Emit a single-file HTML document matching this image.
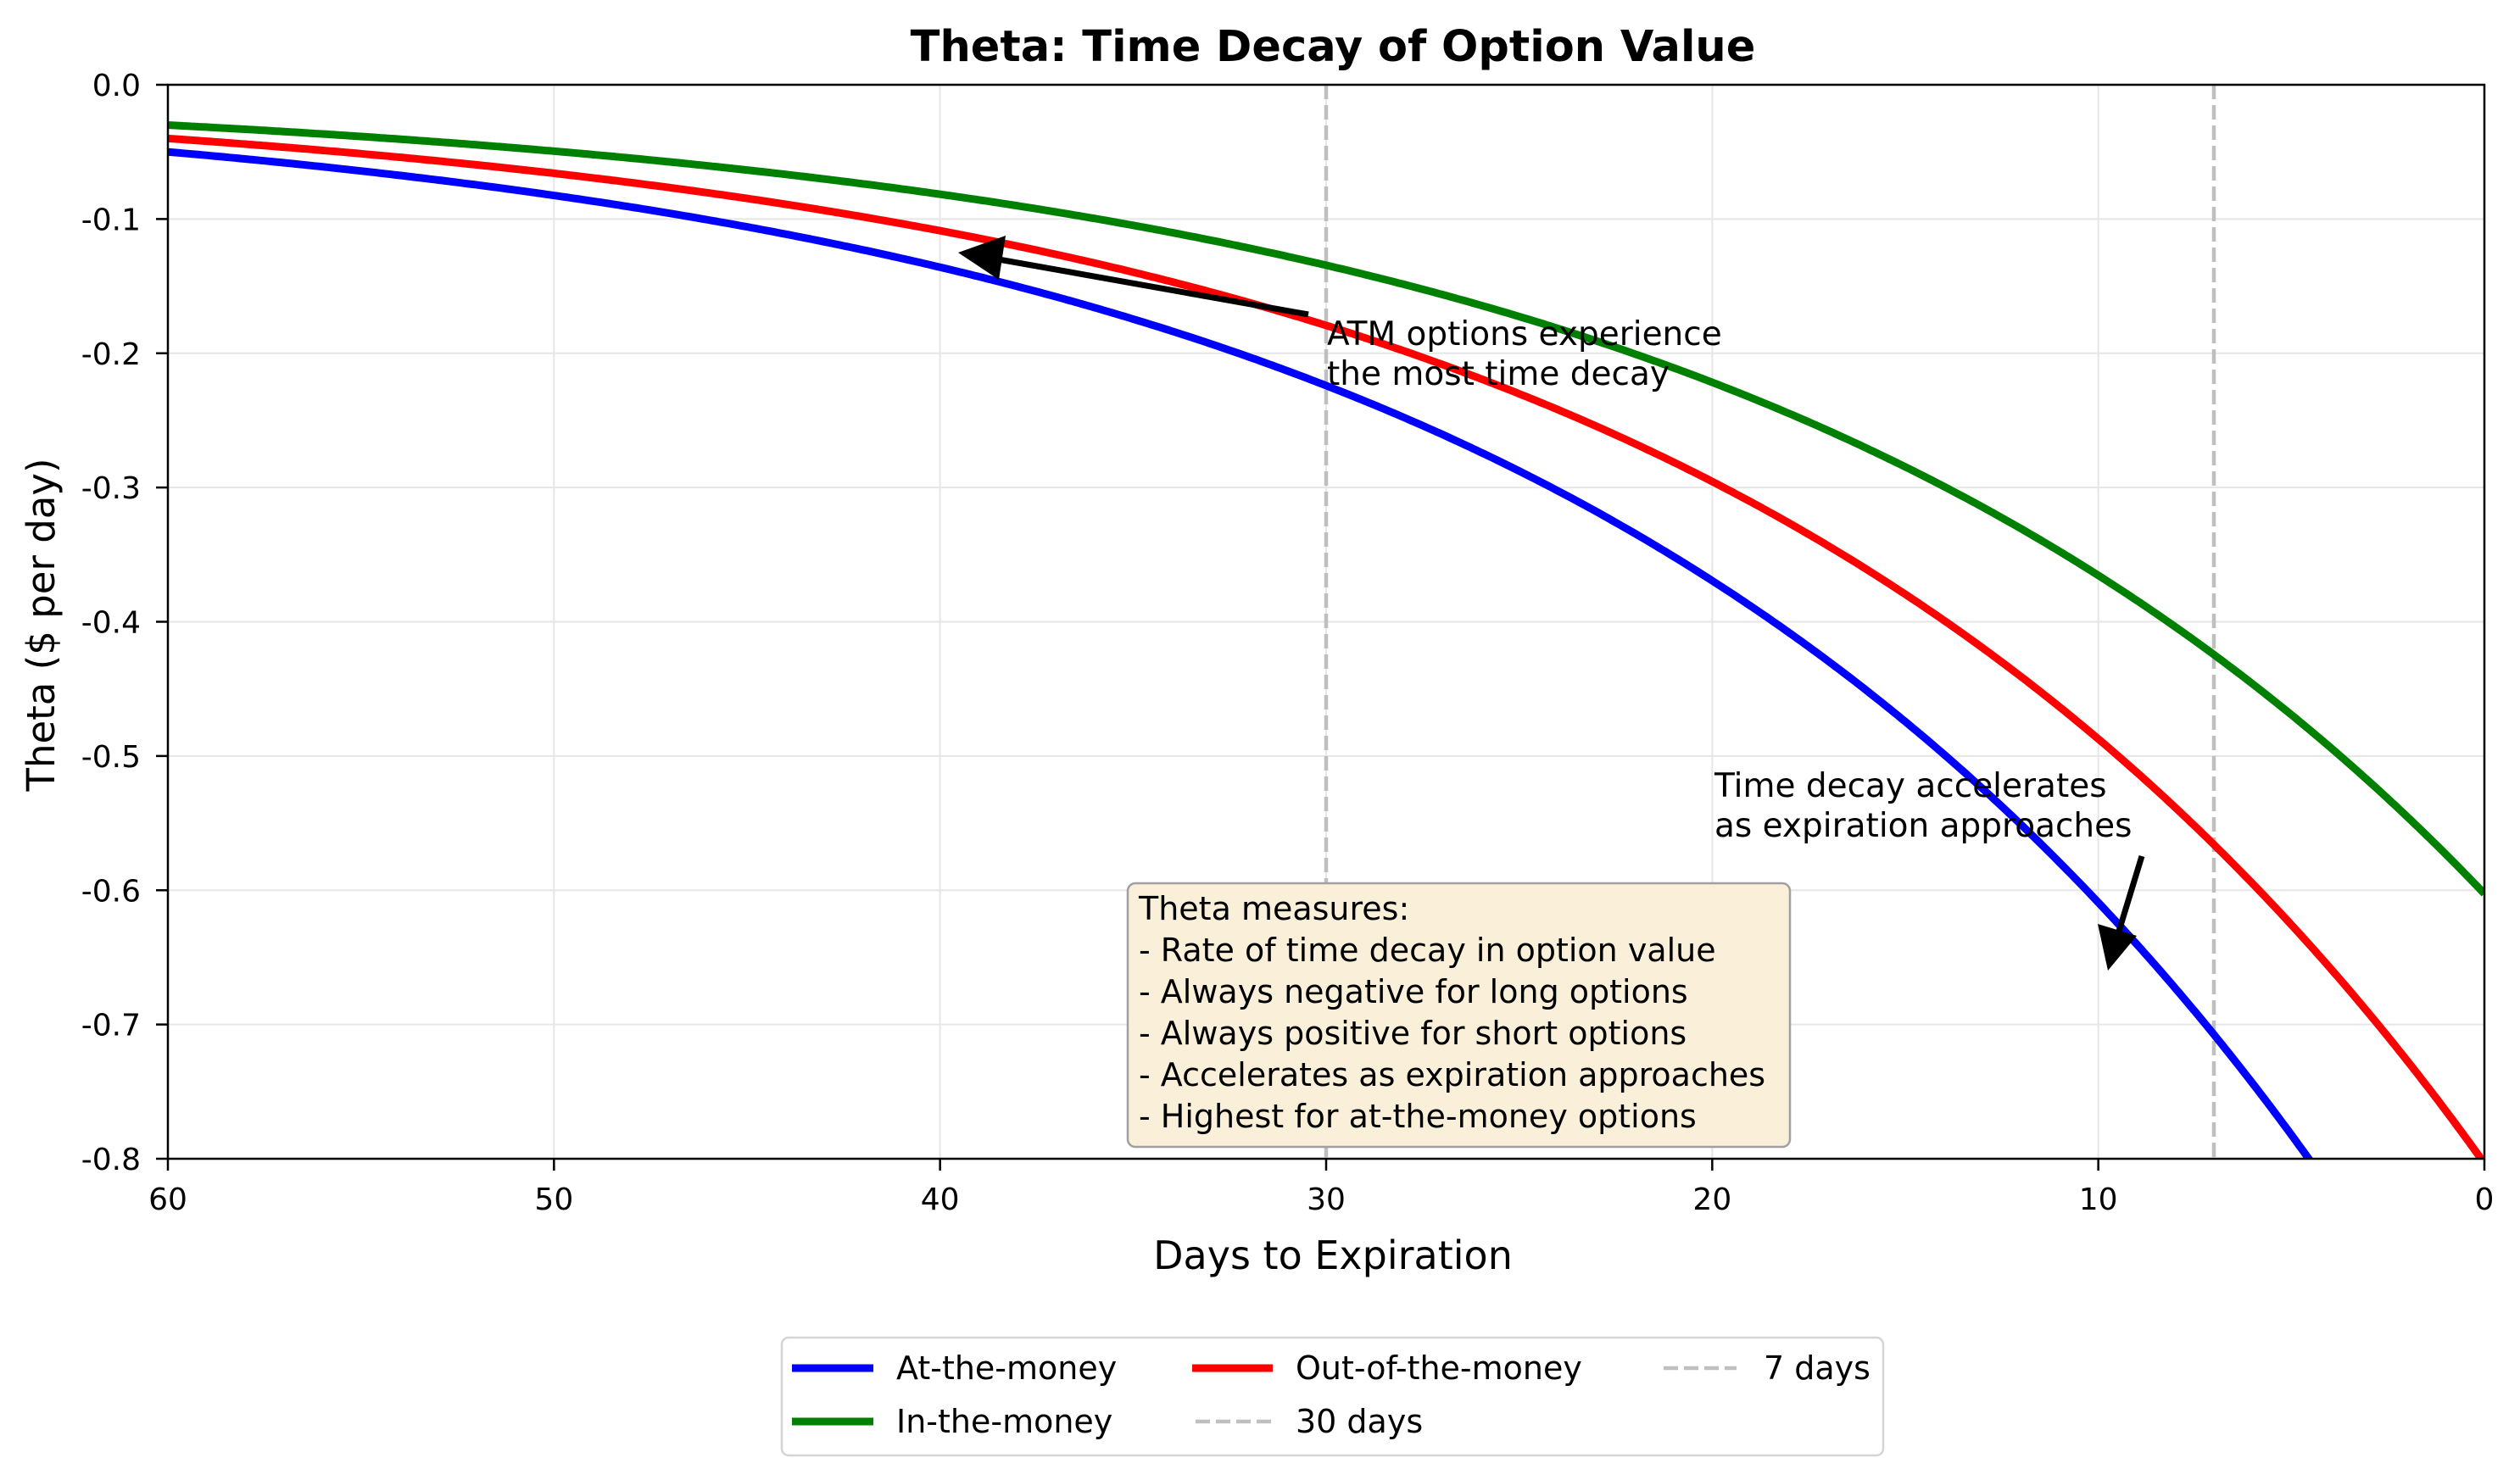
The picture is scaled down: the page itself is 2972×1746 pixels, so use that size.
<!DOCTYPE html>
<html><head><meta charset="utf-8"><style>
html,body{margin:0;padding:0;background:#fff}
svg{display:block}
text{font-family:"DejaVu Sans",sans-serif;fill:#000}
</style></head><body>
<svg id="s" width="2972" height="1746" viewBox="0 0 2972 1746" xmlns="http://www.w3.org/2000/svg">
<rect width="2972" height="1746" fill="#fff"/>
<defs><clipPath id="c"><rect x="198" y="100" width="2732" height="1267"/></clipPath></defs>
<g id="grid" stroke="#e6e6e6" stroke-width="2"></g>
<g clip-path="url(#c)">
<line x1="1564" y1="100" x2="1564" y2="1367" stroke="#bfbfbf" stroke-width="4.5" stroke-dasharray="17,7"/>
<line x1="2611" y1="100" x2="2611" y2="1367" stroke="#bfbfbf" stroke-width="4.5" stroke-dasharray="17,7"/>
<path id="atm" fill="none" stroke="#0000ff" stroke-width="9"/>
<path id="otm" fill="none" stroke="#ff0000" stroke-width="9"/>
<path id="itm" fill="none" stroke="#008000" stroke-width="9"/>
</g>
<rect x="198" y="100" width="2732" height="1267" fill="none" stroke="#000" stroke-width="2.5"/>
<g id="ticks" stroke="#000" stroke-width="2.5"></g>
<g id="labels" font-size="36"></g>
<text x="1572" y="72" font-size="51" font-weight="bold" text-anchor="middle">Theta: Time Decay of Option Value</text>
<text x="1572" y="1497" font-size="46" text-anchor="middle">Days to Expiration</text>
<text transform="translate(64,737) rotate(-90)" font-size="45" text-anchor="middle">Theta ($ per day)</text>
<line x1="1543" y1="371" x2="1172" y2="305" stroke="#000" stroke-width="7"/>
<polygon points="1130,298 1186,278 1178,330" fill="#000"/>
<text x="1565" y="407" font-size="39">ATM options experience</text>
<text x="1565" y="454" font-size="39">the most time decay</text>
<line x1="2526" y1="1010" x2="2497" y2="1105" stroke="#000" stroke-width="7"/>
<polygon points="2486,1145 2474,1090 2520,1104" fill="#000"/>
<text x="2022" y="940" font-size="39">Time decay accelerates</text>
<text x="2022" y="987" font-size="39">as expiration approaches</text>
<rect x="1330" y="1042" width="781" height="311" rx="9" fill="#faefd9" stroke="#a0a0a0" stroke-width="2.5"/>
<g font-size="38">
<text x="1343" y="1085">Theta measures:</text>
<text x="1343" y="1134">- Rate of time decay in option value</text>
<text x="1343" y="1183">- Always negative for long options</text>
<text x="1343" y="1232">- Always positive for short options</text>
<text x="1343" y="1281">- Accelerates as expiration approaches</text>
<text x="1343" y="1330">- Highest for at-the-money options</text>
</g>
<g transform="translate(0,-7)">
<rect x="922" y="1585" width="1299" height="139" rx="8" fill="#fff" stroke="#d5d5d5" stroke-width="2.5"/>
<g font-size="38">
<line x1="934" y1="1621" x2="1030" y2="1621" stroke="#0000ff" stroke-width="9"/>
<text x="1057" y="1634">At-the-money</text>
<line x1="934" y1="1684" x2="1030" y2="1684" stroke="#008000" stroke-width="9"/>
<text x="1057" y="1697">In-the-money</text>
<line x1="1406" y1="1621" x2="1501" y2="1621" stroke="#ff0000" stroke-width="9"/>
<text x="1528" y="1634">Out-of-the-money</text>
<line x1="1410" y1="1684" x2="1501" y2="1684" stroke="#bfbfbf" stroke-width="4.5" stroke-dasharray="17,7"/>
<text x="1528" y="1697">30 days</text>
<line x1="1962" y1="1621" x2="2048" y2="1621" stroke="#bfbfbf" stroke-width="4.5" stroke-dasharray="17,7"/>
<text x="2080" y="1634">7 days</text>
</g>
</g>
</svg>
<script>
var X=t=>198+(60-t)*2732/60, Y=v=>100+(-v)*1267/0.8;
function p(a){var d="";for(var i=0;i<=600;i++){var t=60-i*0.1;var v=-a*Math.exp(0.05*(60-t));d+=(i?"L":"M")+X(t).toFixed(1)+","+Y(v).toFixed(1);}return d;}
document.getElementById("atm").setAttribute("d",p(0.05));
document.getElementById("otm").setAttribute("d",p(0.04));
document.getElementById("itm").setAttribute("d",p(0.03));
var ns="http://www.w3.org/2000/svg",g=document.getElementById("grid"),tk=document.getElementById("ticks"),lb=document.getElementById("labels");
function el(par,n,a,txt){var e=document.createElementNS(ns,n);for(var k in a)e.setAttribute(k,a[k]);if(txt!=null)e.textContent=txt;par.appendChild(e);}
for(var t=60;t>=0;t-=10){var x=X(t);el(g,"line",{x1:x,y1:100,x2:x,y2:1367});el(tk,"line",{x1:x,y1:1367,x2:x,y2:1381});el(lb,"text",{x:x,y:1427,"text-anchor":"middle"},String(t));}
for(var i=0;i<=8;i++){var v=-i/10,y=Y(v);el(g,"line",{x1:198,y1:y,x2:2930,y2:y});el(tk,"line",{x1:184,y1:y,x2:198,y2:y});el(lb,"text",{x:166,y:y+13,"text-anchor":"end"},(i==0?"0.0":"-0."+i));}
</script>
</body></html>
